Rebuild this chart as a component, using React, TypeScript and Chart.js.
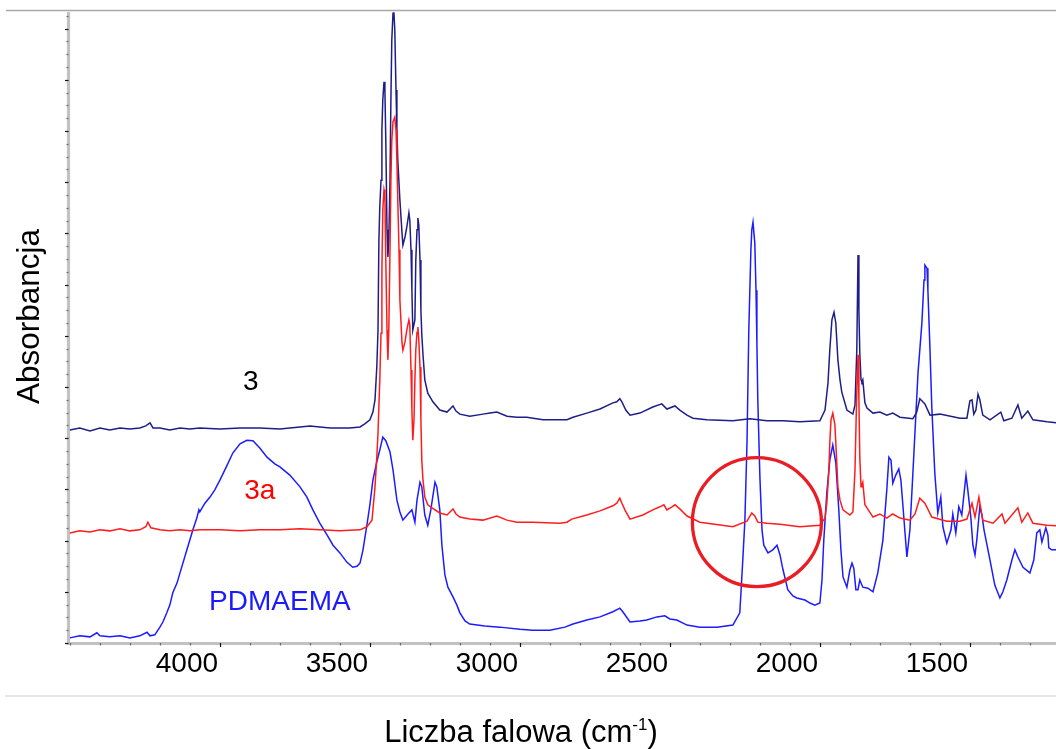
import React, { useEffect, useRef } from "react";
import { Chart, registerables } from "chart.js";

Chart.register(...registerables);

const FONT = '"Liberation Sans", Arial, Helvetica, sans-serif';

// x tick labels (wavenumber, cm-1)
const xTickValues = [4000, 3500, 3000, 2500, 2000, 1500];
// positions of the major tick marks on the bottom axis (as drawn in the original figure)
const xMajorMarks = [3890, 3390, 2890, 2390, 1890, 1390];

const seriesNames = ["3", "3a", "PDMAEMA"];

// [wavenumber, absorbance] – compound 3
const spectrum3: [number, number][] = [
  [4390,.416],[4357,.420],[4323,.414],[4290,.420],[4257,.416],[4223,.420],[4190,.418],[4157,.420],[4137,.424],[4123,.430],[4113,.420],[4090,.420],[4057,.416],[4023,.420],[3990,.418],[3957,.420],[3890,.418],[3823,.420],[3757,.420],[3690,.418],[3623,.422],[3590,.424],[3523,.420],[3457,.420],[3423,.422],[3407,.428],[3390,.436],[3380,.451],[3373,.475],[3367,.539],[3363,.611],[3360,.787],[3357,.852],[3353,.904],[3350,1.002],[3347,1.061],[3343,1.096],[3340,1.080],[3337,.982],[3333,.807],[3330,.754],[3327,.787],[3323,.904],[3320,1.061],[3317,1.178],[3313,1.230],[3310,1.232],[3307,1.197],[3303,1.080],[3300,1.002],[3297,.943],[3290,.865],[3283,.801],[3280,.777],[3273,.793],[3267,.812],[3260,.840],[3257,.826],[3253,.768],[3250,.689],[3247,.611],[3240,.631],[3237,.748],[3233,.807],[3230,.830],[3227,.816],[3223,.748],[3220,.650],[3217,.602],[3213,.563],[3207,.514],[3197,.488],[3180,.471],[3157,.455],[3133,.451],[3123,.457],[3113,.463],[3103,.453],[3090,.447],[3057,.443],[3013,.447],[2990,.449],[2967,.451],[2933,.443],[2900,.441],[2867,.441],[2813,.436],[2767,.436],[2733,.436],[2713,.441],[2667,.449],[2623,.457],[2580,.469],[2567,.471],[2557,.477],[2550,.471],[2537,.455],[2523,.445],[2490,.449],[2447,.461],[2417,.467],[2400,.457],[2373,.463],[2357,.455],[2333,.445],[2313,.439],[2267,.436],[2180,.434],[2123,.438],[2067,.434],[2013,.434],[1957,.432],[1890,.434],[1873,.455],[1863,.508],[1857,.572],[1850,.631],[1843,.646],[1837,.625],[1830,.553],[1823,.514],[1817,.490],[1800,.455],[1780,.447],[1773,.465],[1767,.572],[1763,.758],[1760,.650],[1757,.566],[1753,.514],[1750,.510],[1747,.514],[1740,.469],[1733,.459],[1713,.449],[1690,.451],[1667,.445],[1647,.449],[1623,.441],[1580,.438],[1567,.451],[1557,.477],[1547,.471],[1540,.467],[1523,.445],[1490,.447],[1423,.439],[1400,.439],[1390,.473],[1383,.475],[1377,.447],[1370,.455],[1363,.486],[1357,.475],[1347,.445],[1323,.436],[1287,.451],[1277,.434],[1250,.439],[1230,.465],[1217,.439],[1197,.453],[1180,.436],[1133,.432],[1103,.430]
];

// [wavenumber, absorbance] – compound 3a
const spectrum3a: [number, number][] = [
  [4390,.215],[4357,.219],[4323,.217],[4290,.221],[4257,.219],[4223,.223],[4190,.219],[4157,.221],[4137,.227],[4130,.236],[4120,.225],[4090,.221],[4057,.219],[4023,.221],[3990,.219],[3957,.221],[3890,.221],[3823,.219],[3757,.221],[3690,.221],[3623,.223],[3557,.221],[3490,.219],[3423,.221],[3400,.227],[3383,.240],[3373,.305],[3367,.363],[3363,.410],[3357,.514],[3353,.605],[3350,.729],[3347,.846],[3343,.885],[3340,.875],[3337,.748],[3333,.611],[3330,.553],[3327,.611],[3323,.768],[3320,.904],[3317,.982],[3313,1.018],[3307,1.027],[3303,1.002],[3300,.943],[3297,.865],[3293,.768],[3290,.670],[3283,.586],[3280,.572],[3273,.588],[3267,.611],[3260,.631],[3257,.621],[3253,.533],[3250,.455],[3247,.396],[3243,.436],[3240,.514],[3237,.572],[3233,.607],[3230,.617],[3227,.592],[3223,.539],[3220,.436],[3217,.357],[3213,.318],[3207,.285],[3197,.270],[3183,.264],[3157,.254],[3133,.250],[3123,.256],[3113,.262],[3103,.252],[3090,.246],[3057,.242],[3013,.240],[2967,.248],[2933,.240],[2900,.236],[2847,.236],[2757,.234],[2733,.236],[2717,.242],[2667,.250],[2623,.258],[2580,.268],[2567,.273],[2557,.283],[2550,.273],[2540,.260],[2523,.242],[2480,.250],[2447,.260],[2423,.266],[2410,.270],[2400,.260],[2383,.266],[2373,.270],[2357,.262],[2333,.248],[2290,.236],[2180,.227],[2133,.238],[2117,.254],[2107,.248],[2097,.236],[2067,.234],[2023,.232],[1957,.227],[1890,.230],[1873,.244],[1867,.273],[1860,.338],[1857,.391],[1853,.436],[1847,.449],[1840,.426],[1837,.391],[1830,.305],[1823,.279],[1813,.260],[1790,.250],[1780,.256],[1773,.338],[1767,.494],[1763,.563],[1760,.475],[1757,.363],[1753,.305],[1750,.309],[1747,.314],[1740,.270],[1733,.264],[1713,.246],[1690,.252],[1667,.244],[1647,.252],[1623,.244],[1590,.240],[1573,.252],[1557,.283],[1540,.273],[1517,.246],[1467,.238],[1423,.238],[1400,.242],[1383,.273],[1373,.246],[1360,.285],[1347,.240],[1313,.234],[1283,.252],[1273,.234],[1230,.264],[1217,.236],[1197,.254],[1180,.234],[1133,.230],[1103,.229]
];

// [wavenumber, absorbance] – PDMAEMA
const spectrumPDMAEMA: [number, number][] = [
  [4390,.010],[4357,.014],[4323,.012],[4300,.020],[4290,.014],[4257,.012],[4223,.014],[4190,.010],[4157,.014],[4133,.021],[4123,.014],[4107,.016],[4090,.031],[4080,.041],[4067,.059],[4057,.074],[4047,.098],[4033,.117],[4023,.137],[4000,.182],[3980,.221],[3967,.244],[3960,.260],[3957,.256],[3940,.273],[3923,.285],[3907,.299],[3890,.318],[3867,.346],[3847,.371],[3823,.389],[3800,.396],[3780,.395],[3757,.381],[3733,.363],[3707,.350],[3690,.344],[3657,.328],[3623,.305],[3600,.285],[3580,.260],[3557,.234],[3533,.211],[3513,.191],[3490,.176],[3467,.158],[3447,.148],[3433,.150],[3423,.156],[3413,.182],[3400,.230],[3390,.270],[3380,.318],[3367,.354],[3357,.377],[3347,.402],[3337,.395],[3323,.373],[3313,.338],[3300,.279],[3290,.256],[3280,.240],[3263,.252],[3250,.260],[3240,.236],[3233,.279],[3223,.314],[3217,.305],[3207,.250],[3197,.230],[3187,.260],[3173,.314],[3167,.305],[3157,.260],[3150,.191],[3140,.133],[3130,.109],[3113,.090],[3100,.074],[3090,.059],[3073,.043],[3057,.037],[3007,.033],[2957,.031],[2890,.027],[2847,.025],[2790,.025],[2740,.031],[2713,.037],[2667,.045],[2623,.051],[2580,.061],[2557,.068],[2547,.061],[2523,.041],[2490,.043],[2467,.045],[2433,.051],[2407,.053],[2390,.047],[2367,.045],[2333,.035],[2290,.031],[2233,.031],[2180,.035],[2157,.059],[2147,.162],[2140,.240],[2133,.391],[2127,.611],[2120,.768],[2117,.807],[2113,.822],[2107,.781],[2103,.689],[2100,.586],[2097,.475],[2090,.324],[2083,.221],[2077,.191],[2063,.176],[2047,.182],[2033,.191],[2023,.172],[2013,.143],[1997,.104],[1980,.092],[1967,.088],[1940,.084],[1923,.078],[1907,.074],[1890,.078],[1883,.123],[1877,.201],[1867,.293],[1857,.357],[1847,.387],[1837,.352],[1827,.260],[1820,.182],[1813,.129],[1800,.109],[1790,.143],[1783,.156],[1777,.146],[1770,.104],[1763,.104],[1757,.123],[1747,.109],[1730,.107],[1713,.100],[1697,.137],[1680,.201],[1667,.299],[1660,.363],[1653,.357],[1647,.312],[1637,.328],[1627,.340],[1620,.318],[1613,.266],[1600,.168],[1590,.221],[1580,.332],[1563,.527],[1550,.625],[1543,.709],[1540,.738],[1533,.732],[1530,.689],[1523,.572],[1517,.461],[1507,.332],[1497,.254],[1487,.285],[1480,.227],[1467,.195],[1453,.221],[1447,.252],[1437,.215],[1427,.266],[1417,.250],[1410,.289],[1403,.328],[1397,.299],[1387,.246],[1380,.191],[1373,.172],[1367,.201],[1357,.266],[1350,.250],[1343,.221],[1323,.162],[1307,.113],[1290,.088],[1280,.100],[1267,.123],[1250,.162],[1240,.182],[1230,.168],[1213,.148],[1190,.137],[1177,.162],[1167,.215],[1157,.221],[1150,.197],[1137,.225],[1130,.211],[1127,.186],[1117,.182],[1103,.182]
];

// in-plot text labels: [text, wavenumber, absorbance, colour]
const textLabels: [string, number, number, string][] = [
  [seriesNames[0], 3787, 0.510, "#000000"],
  [seriesNames[1], 3757, 0.297, "#ff0000"],
  [seriesNames[2], 3690, 0.080, "#1a1aff"],
];
// highlighted region (circle) centre
const circleCentre: [number, number] = [2100, 0.236];

const toXY = (arr: [number, number][]) => arr.map(([x, y]) => ({ x, y }));

const decorPlugin = {
  id: "decor",
  beforeDraw(chart: any) {
    const { ctx, chartArea, width } = chart;
    ctx.save();
    ctx.fillStyle = "#ffffff";
    ctx.fillRect(0, 0, chart.width, chart.height);
    ctx.strokeStyle = "#a8a8a8";
    ctx.lineWidth = 1.5;
    ctx.beginPath();
    ctx.moveTo(6, chartArea.top - 1.5);
    ctx.lineTo(width, chartArea.top - 1.5);
    ctx.stroke();
    ctx.strokeStyle = "#e6e6e6";
    ctx.lineWidth = 2;
    ctx.beginPath();
    ctx.moveTo(5, chartArea.bottom + 53);
    ctx.lineTo(width, chartArea.bottom + 53);
    ctx.stroke();
    ctx.restore();
  },
  beforeDatasetsDraw(chart: any) {
    const { ctx, chartArea, width } = chart;
    const xs = chart.scales.x;
    const ys = chart.scales.y;
    ctx.save();
    ctx.strokeStyle = "#c2c2c2";
    ctx.lineWidth = 3.2;
    ctx.beginPath();
    ctx.moveTo(chartArea.left - 0.5, chartArea.top);
    ctx.lineTo(chartArea.left - 0.5, chartArea.bottom + 0.5);
    ctx.lineTo(width, chartArea.bottom + 0.5);
    ctx.stroke();
    for (let k = 0; k * 0.025 <= ys.max + 1e-9; k++) {
      const py = Math.round(ys.getPixelForValue(k * 0.025)) + 0.5;
      const major = k % 4 === 0;
      ctx.strokeStyle = major ? "#111111" : "#6a6a6a";
      ctx.lineWidth = 1.2;
      ctx.beginPath();
      ctx.moveTo(chartArea.left - (major ? 4 : 2.5), py);
      ctx.lineTo(chartArea.left - 0.5, py);
      ctx.stroke();
    }
    const start = xMajorMarks[0] + 500;
    for (let v = start; v >= xs.min; v -= 100) {
      if (v > xs.max) continue;
      const px = Math.round(xs.getPixelForValue(v)) + 0.5;
      const major = xMajorMarks.includes(v);
      ctx.strokeStyle = major ? "#111111" : "#6a6a6a";
      ctx.lineWidth = 1.2;
      ctx.beginPath();
      ctx.moveTo(px, chartArea.bottom);
      ctx.lineTo(px, chartArea.bottom + (major ? 4 : 2.5));
      ctx.stroke();
    }
    ctx.restore();
  },
  afterDatasetsDraw(chart: any) {
    const { ctx, chartArea } = chart;
    const xs = chart.scales.x;
    const ys = chart.scales.y;
    ctx.save();
    ctx.font = `28px ${FONT}`;
    ctx.textAlign = "center";
    ctx.textBaseline = "middle";
    for (const [t, wx, wy, c] of textLabels) {
      ctx.fillStyle = c;
      ctx.fillText(t, xs.getPixelForValue(wx), ys.getPixelForValue(wy));
    }
    ctx.strokeStyle = "#ea1c24";
    ctx.lineWidth = 3.3;
    ctx.beginPath();
    ctx.arc(xs.getPixelForValue(circleCentre[0]), ys.getPixelForValue(circleCentre[1]), 64.5, 0, Math.PI * 2);
    ctx.stroke();

    ctx.fillStyle = "#000000";
    ctx.font = `31.5px ${FONT}`;
    ctx.save();
    ctx.translate(chartArea.left - 30.5, (chartArea.top + chartArea.bottom) / 2 - 11);
    ctx.rotate(-Math.PI / 2);
    ctx.textAlign = "center";
    ctx.textBaseline = "alphabetic";
    ctx.fillText("Absorbancja", 0, 0);
    ctx.restore();

    const main = "Liczba falowa (cm";
    const sup = "-1";
    const close = ")";
    ctx.textAlign = "left";
    ctx.textBaseline = "alphabetic";
    ctx.font = `31px ${FONT}`;
    const w1 = ctx.measureText(main).width;
    const w3 = ctx.measureText(close).width;
    ctx.font = `17px ${FONT}`;
    const w2 = ctx.measureText(sup).width;
    const total = w1 + w2 + w3;
    const cx = chartArea.left + 452;
    const base = chartArea.bottom + 99;
    const x0 = cx - total / 2;
    ctx.font = `31px ${FONT}`;
    ctx.fillText(main, x0, base);
    ctx.font = `17px ${FONT}`;
    ctx.fillText(sup, x0 + w1, base - 12);
    ctx.font = `31px ${FONT}`;
    ctx.fillText(close, x0 + w1 + w2, base);
    ctx.restore();
  },
};

export default function App() {
  const ref = useRef<HTMLCanvasElement>(null);
  useEffect(() => {
    if (!ref.current) return;
    const common = { pointRadius: 0, tension: 0, borderWidth: 1.5, clip: false };
    const chart = new Chart(ref.current, {
      type: "line",
      data: {
        datasets: [
          { ...common, label: seriesNames[1], data: toXY(spectrum3a), borderColor: "#ff1c1c", order: 1 },
          { ...common, label: seriesNames[0], data: toXY(spectrum3), borderColor: "#1e1e88", order: 2 },
          { ...common, label: seriesNames[2], data: toXY(spectrumPDMAEMA), borderColor: "#1c1cff", order: 3 },
        ] as any,
      },
      options: {
        animation: false,
        responsive: true,
        maintainAspectRatio: false,
        layout: { padding: { left: 0, top: 12, right: 0, bottom: 0 } },
        plugins: {
          legend: { display: false },
          tooltip: { enabled: false },
          title: { display: false },
        },
        events: [],
        scales: {
          x: {
            type: "linear",
            reverse: true,
            min: 1103,
            max: 4393,
            grid: { display: false, drawTicks: false },
            border: { display: false },
            afterBuildTicks: (s: any) => {
              s.ticks = xTickValues.map((v) => ({ value: v }));
            },
            afterFit: (s: any) => {
              s.height = 106;
            },
            ticks: {
              autoSkip: false,
              maxRotation: 0,
              padding: 4,
              color: "#000000",
              font: { family: FONT, size: 28 },
              callback: (v: any) => String(v),
            },
          },
          y: {
            type: "linear",
            min: 0,
            max: 1.2324,
            grid: { display: false, drawTicks: false },
            border: { display: false },
            ticks: { display: false },
            afterFit: (s: any) => {
              s.width = 69;
            },
          },
        },
      },
      plugins: [decorPlugin],
    });
    return () => chart.destroy();
  }, []);
  return (
    <div style={{ position: "absolute", left: 0, top: 0, width: 1056, height: 749, background: "#ffffff" }}>
      <canvas ref={ref} />
    </div>
  );
}
